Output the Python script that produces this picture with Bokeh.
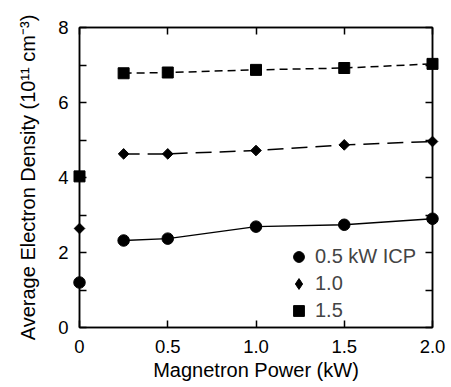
import math
from bokeh.plotting import figure
from bokeh.models import (LinearAxis, FixedTicker, Range1d, Legend, LegendItem,
                          CustomJSTickFormatter)
from bokeh.embed import file_html
from bokeh.resources import INLINE

# data
power = [0.0, 0.25, 0.5, 1.0, 1.5, 2.0]
icp_05 = [1.2, 2.32, 2.37, 2.69, 2.74, 2.9]
icp_10 = [2.64, 4.63, 4.63, 4.72, 4.87, 4.96]
icp_15 = [4.03, 6.78, 6.80, 6.87, 6.92, 7.03]
series_labels = ["0.5 kW ICP", "1.0", "1.5"]
x_ticks = [0.0, 0.5, 1.0, 1.5, 2.0]
x_tick_labels = ["0", "0.5", "1.0", "1.5", "2.0"]
y_major = [0, 2, 4, 6, 8]
y_minor = [1, 3, 5, 7]

FONT = "Liberation Sans"

p = figure(width=451, height=387, output_backend="svg", toolbar_location=None,
           x_range=Range1d(0, 2), y_range=Range1d(0, 8),
           min_border_left=79, min_border_top=27, min_border_right=19,
           min_border_bottom=60)
p.grid.visible = False
p.outline_line_color = "black"
p.outline_line_width = 1.5
p.background_fill_color = "white"
p.border_fill_color = "white"

blank = CustomJSTickFormatter(code="return ''")

def style_axis(ax, labels=True):
    ax.axis_line_color = "black"
    ax.axis_line_width = 1.5
    ax.major_tick_in = 7
    ax.major_tick_out = 0
    ax.minor_tick_in = 7
    ax.minor_tick_out = 0
    ax.major_tick_line_width = 1.5
    ax.minor_tick_line_width = 1.5
    ax.major_label_text_font = FONT
    ax.major_label_text_font_size = "18.5px"
    ax.major_label_text_color = "black"
    ax.axis_label_text_font = FONT
    ax.axis_label_text_font_size = "20px"
    ax.axis_label_text_font_style = "normal"
    ax.axis_label_text_color = "black"
    if not labels:
        ax.formatter = blank
        ax.major_label_standoff = 0

xa = p.xaxis[0]
xa.ticker = FixedTicker(ticks=x_ticks)
xa.major_label_overrides = {t: l for t, l in zip(x_ticks, x_tick_labels)}
xa.axis_label = "Magnetron Power (kW)"
xa.major_label_standoff = 12
xa.axis_label_standoff = 3
style_axis(xa)

ya = p.yaxis[0]
ya.ticker = FixedTicker(ticks=y_major, minor_ticks=y_minor)
ya.axis_label = "Average Electron Density (10\u00b9\u00b9 cm\u207b\u00b3)"
ya.major_label_standoff = 11
ya.axis_label_standoff = 16
style_axis(ya)

top = LinearAxis(ticker=FixedTicker(ticks=x_ticks))
style_axis(top, labels=False)
p.add_layout(top, "above")
right = LinearAxis(ticker=FixedTicker(ticks=y_major, minor_ticks=y_minor))
style_axis(right, labels=False)
p.add_layout(right, "right")

# lines (connect 0.25 .. 2.0)
p.line(power[1:], icp_05[1:], line_color="black", line_width=1.5)
p.line(power[1:], icp_10[1:], line_color="black", line_width=1.5, line_dash="16 8")
p.line(power[1:], icp_15[1:], line_color="black", line_width=1.5, line_dash="8 5")

r1 = p.scatter(power, icp_05, marker="circle", size=11.5, color="black",
               level="overlay")
r2 = p.scatter(power, icp_10, marker="square", size=7.5, angle=math.pi / 4,
               color="black", level="overlay")
r3 = p.scatter(power, icp_15, marker="square", size=11, color="black",
               level="overlay")
# legend-only glyph for the diamond key (a single NaN point, never drawn)
r2_key = p.scatter(x=[float("nan")], y=[float("nan")], marker="diamond",
                   size=11, color="black")

legend = Legend(items=[LegendItem(label=series_labels[0], renderers=[r1]),
                       LegendItem(label=series_labels[1], renderers=[r2_key]),
                       LegendItem(label=series_labels[2], renderers=[r3])],
                location=(206, 3), border_line_color=None,
                background_fill_alpha=0, padding=0, margin=0, spacing=0,
                glyph_width=27, glyph_height=27, label_height=27,
                label_standoff=3, label_text_font=FONT,
                label_text_font_size="20px")
p.add_layout(legend, "center")

open("out.html", "w").write(file_html(p, INLINE))
